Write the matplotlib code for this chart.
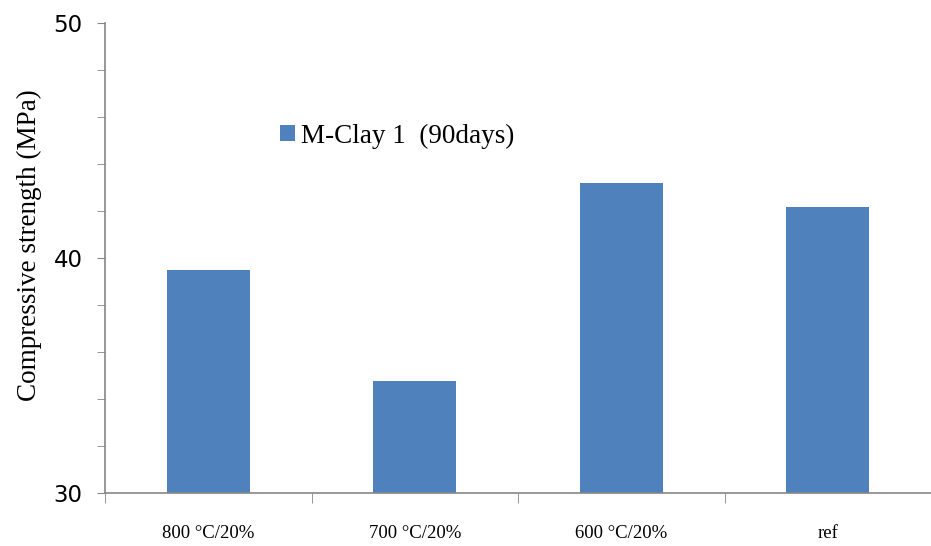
import numpy as np
import matplotlib.pyplot as plt
from matplotlib.ticker import MultipleLocator

categories = ['800 °C/20%', '700 °C/20%', '600 °C/20%', 'ref']
strength_90d = [39.5, 34.75, 43.2, 42.15]
series_name = 'M-Clay 1  (90days)'

BAR_COLOR = '#4F81BD'
AXIS_COLOR = '#868686'
SERIF = ['Liberation Serif', 'DejaVu Serif']

fig = plt.figure(figsize=(9.31, 5.46), dpi=100)
ax = fig.add_axes([105 / 931, 53 / 546, 826 / 931, 470 / 546])

x = np.arange(len(categories))
ax.bar(x, strength_90d, width=0.4, color=BAR_COLOR, label=series_name, zorder=2)

ax.set_xlim(-0.5, len(categories) - 0.5)
ax.set_ylim(30, 50)
ax.yaxis.set_major_locator(MultipleLocator(10))
ax.yaxis.set_minor_locator(MultipleLocator(2))
ax.set_xticks(x)
ax.set_xticklabels(categories, fontfamily=SERIF, fontsize=13.5)
ax.set_xticks(np.arange(len(categories) + 1) - 0.5, minor=True)
ax.tick_params(axis='x', which='major', length=0, pad=23)
ax.tick_params(axis='x', which='minor', length=7, color=AXIS_COLOR, direction='out')
ax.tick_params(axis='y', which='both', length=6, color=AXIS_COLOR, direction='out',
               labelsize=16.5, pad=10)

for side in ['top', 'right']:
    ax.spines[side].set_visible(False)
for side in ['left', 'bottom']:
    ax.spines[side].set_color(AXIS_COLOR)
    ax.spines[side].set_linewidth(1.2)

ax.set_ylabel('Compressive strength (MPa)', fontfamily=SERIF, fontsize=19.5)
ax.yaxis.set_label_coords(-0.076, 0.528)

ax.legend(loc='upper left', bbox_to_anchor=(0.182, 0.838), frameon=False,
          handlelength=0.55, handleheight=0.55, handletextpad=0.25,
          prop={'family': SERIF, 'size': 19.5})

fig.savefig('out.png', dpi=100)
